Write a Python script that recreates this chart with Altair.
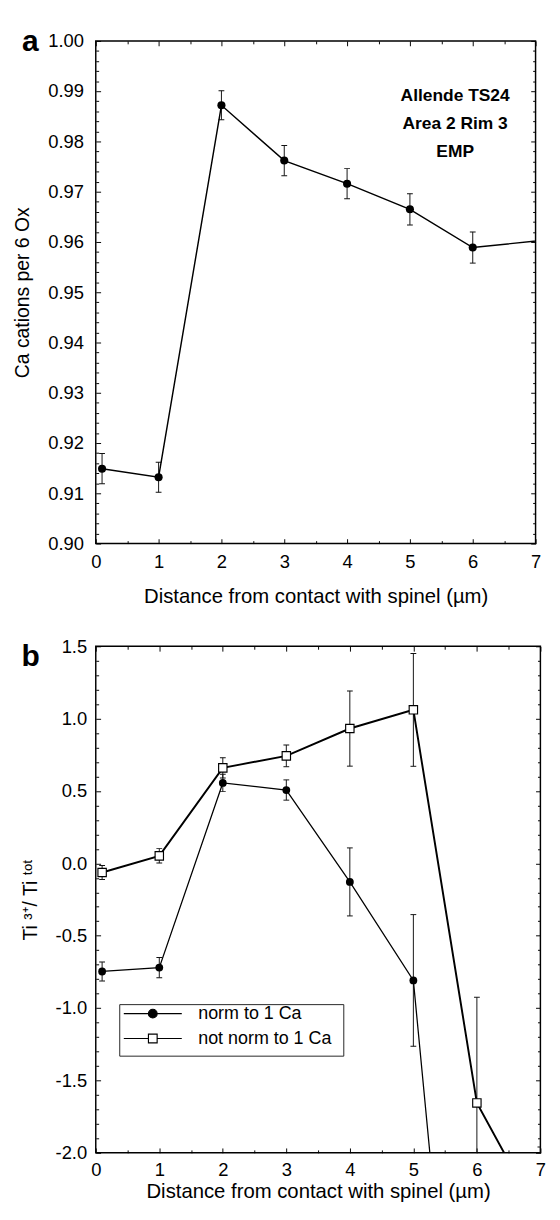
import altair as alt
import pandas as pd

FONT = "Liberation Sans"

# ---------------- panel a : Ca cations per 6 Ox ----------------
a_dist = [0.1, 1, 2, 3, 4, 5, 6, 8]
a_ca = [0.9149, 0.9132, 0.9872, 0.9762, 0.9716, 0.9665, 0.9589, 0.9615]
a_err = [0.0030, 0.0030, 0.0029, 0.0030, 0.0030, 0.0031, 0.0031, 0.0030]

# ---------------- panel b : Ti3+/Ti tot ----------------
series_names = ["norm to 1 Ca", "not norm to 1 Ca"]
norm_dist = [0.1, 1, 2, 3, 4, 5, 6]
norm_val = [-0.747, -0.720, 0.556, 0.507, -0.128, -0.809, -5.40]
norm_err = [0.065, 0.070, 0.060, 0.070, 0.235, 0.455, 0.50]
raw_dist = [0.1, 1, 2, 3, 4, 5, 6, 7]
raw_val = [-0.063, 0.052, 0.660, 0.743, 0.932, 1.061, -1.655, -2.46]
raw_err = [0.048, 0.050, 0.070, 0.075, 0.260, 0.390, 0.730, 0.50]

# ---------------- ticks / labels ----------------
x_major = [0, 1, 2, 3, 4, 5, 6, 7]
x_minor = [0.5, 1.5, 2.5, 3.5, 4.5, 5.5, 6.5]
a_major = [0.90, 0.91, 0.92, 0.93, 0.94, 0.95, 0.96, 0.97, 0.98, 0.99, 1.00]
a_minor = [round(0.90 + 0.002 * i, 3) for i in range(51) if i % 5]
b_major = [-2.0, -1.5, -1.0, -0.5, 0.0, 0.5, 1.0, 1.5]
b_minor = [round(-2.0 + 0.1 * i, 1) for i in range(36) if i % 5]

x_title = "Distance from contact with spinel (µm)"
a_y_title = "Ca cations per 6 Ox"
b_y_title = "Ti ³⁺/ Ti ᵗᵒᵗ"
annotation = "Allende TS24\nArea 2 Rim 3\nEMP"


def lab_axis(values, orient, title, label_pad, title_pad, title_size, **kw):
    return alt.Axis(orient=orient, values=values, title=title, ticks=False, tickSize=0,
                    domain=False, grid=False, labelPadding=label_pad, titlePadding=title_pad,
                    labelFont=FONT, labelFontSize=19, labelColor="black",
                    titleFont=FONT, titleFontSize=title_size, titleColor="black",
                    titleFontWeight="normal", labelFlush=False, labelOverlap=False, **kw)


def tick_axis(values, orient, size):
    return alt.Axis(orient=orient, values=values, labels=False, domain=False, grid=False,
                    title=None, ticks=True, tickSize=size, offset=-size,
                    tickColor="black", tickWidth=1)


# ================= panel a =================
dfa = pd.DataFrame({
    "x": a_dist, "y": a_ca,
    "lo": [v - e for v, e in zip(a_ca, a_err)],
    "hi": [v + e for v, e in zip(a_ca, a_err)],
})
xa = alt.Scale(domain=[0, 7], nice=False, zero=False)
ya = alt.Scale(domain=[0.90, 1.00], nice=False, zero=False)
base_a = alt.Chart(dfa)

a_err_rule = base_a.mark_rule(color="#111", strokeWidth=1, clip=True).encode(
    x=alt.X("x:Q", scale=xa, axis=tick_axis(x_minor, "bottom", 3)),
    y=alt.Y("lo:Q", scale=ya, axis=tick_axis(a_minor, "left", 3)),
    y2="hi:Q")
a_cap_hi = base_a.mark_tick(orient="horizontal", size=6, thickness=1, color="#111",
                            opacity=1, clip=True).encode(
    x=alt.X("x:Q", scale=xa, axis=tick_axis(x_major, "top", 5)),
    y=alt.Y("hi:Q", scale=ya, axis=tick_axis(a_major, "right", 5)))
a_cap_lo = base_a.mark_tick(orient="horizontal", size=6, thickness=1, color="#111",
                            opacity=1, clip=True).encode(
    x=alt.X("x:Q", scale=xa, axis=tick_axis(x_minor, "top", 3)),
    y=alt.Y("lo:Q", scale=ya, axis=tick_axis(a_minor, "right", 3)))
a_line = base_a.mark_line(color="black", strokeWidth=1.5, clip=True).encode(
    x=alt.X("x:Q", scale=xa, axis=lab_axis(x_major, "bottom", x_title, 10, 14.8, 21, format=".0f")),
    y=alt.Y("y:Q", scale=ya, axis=lab_axis(a_major, "left", a_y_title, 12.7, 16.2, 20, format=".2f")))
a_pts = base_a.mark_circle(color="black", size=70, opacity=1, clip=True).encode(
    x=alt.X("x:Q", scale=xa, axis=tick_axis(x_major, "bottom", 5)),
    y=alt.Y("y:Q", scale=ya, axis=tick_axis(a_major, "left", 5)))
a_note = alt.Chart(pd.DataFrame({"t": [annotation]})).mark_text(
    align="center", baseline="middle", font=FONT, fontSize=18, fontWeight="bold",
    lineBreak="\n", lineHeight=29, color="black").encode(
    x=alt.value(371.8), y=alt.value(57.3), text="t:N")
a_letter = alt.Chart(pd.DataFrame({"t": ["a"]})).mark_text(
    align="center", baseline="alphabetic", font=FONT, fontSize=31, fontWeight="bold",
    color="black").encode(x=alt.value(-67.7), y=alt.value(10.3), text="t:N")

panel_a = alt.layer(a_err_rule, a_cap_hi, a_cap_lo, a_line, a_pts, a_note, a_letter).resolve_axis(
    x="independent", y="independent").properties(width=455, height=520)

# ================= panel b =================
rows = []
for name, xs, vs, es in [(series_names[0], norm_dist, norm_val, norm_err),
                         (series_names[1], raw_dist, raw_val, raw_err)]:
    for xv, v, e in zip(xs, vs, es):
        rows.append({"series": name, "x": xv, "y": v, "lo": v - e, "hi": v + e})
dfb = pd.DataFrame(rows)

xb = alt.Scale(domain=[0, 7], nice=False, zero=False)
yb = alt.Scale(domain=[-2.0, 1.5], nice=False, zero=False)
base_b = alt.Chart(dfb)
neg_fix = "replace(format(datum.value, '.1f'), '\u2212', '-')"

b_err_rule = base_b.mark_rule(color="#111", strokeWidth=1, clip=True).encode(
    x=alt.X("x:Q", scale=xb, axis=tick_axis(x_minor, "bottom", 3)),
    y=alt.Y("lo:Q", scale=yb, axis=tick_axis(b_minor, "left", 3)),
    y2="hi:Q")
b_cap_hi = base_b.mark_tick(orient="horizontal", size=6, thickness=1, color="#111",
                            opacity=1, clip=True).encode(
    x=alt.X("x:Q", scale=xb, axis=tick_axis(x_major, "top", 5)),
    y=alt.Y("hi:Q", scale=yb, axis=tick_axis(b_major, "right", 5)))
b_cap_lo = base_b.mark_tick(orient="horizontal", size=6, thickness=1, color="#111",
                            opacity=1, clip=True).encode(
    x=alt.X("x:Q", scale=xb, axis=tick_axis(x_minor, "top", 3)),
    y=alt.Y("lo:Q", scale=yb, axis=tick_axis(b_minor, "right", 3)))
b_line_norm = base_b.transform_filter(alt.datum.series == series_names[0]).mark_line(
    color="black", strokeWidth=1.3, clip=True).encode(
    x=alt.X("x:Q", scale=xb, axis=lab_axis(x_major, "bottom", x_title, 8.8, 1.7, 21, format=".0f")),
    y=alt.Y("y:Q", scale=yb, axis=lab_axis(b_major, "left", b_y_title, 9.4, 15.4, 20, labelExpr=neg_fix)))
b_line_raw = base_b.transform_filter(alt.datum.series == series_names[1]).mark_line(
    color="black", strokeWidth=2, clip=True).encode(
    x=alt.X("x:Q", scale=xb, axis=None),
    y=alt.Y("y:Q", scale=yb, axis=None))
b_circles = base_b.transform_filter(alt.datum.series == series_names[0]).mark_circle(
    color="black", size=65, opacity=1, clip=True).encode(
    x=alt.X("x:Q", scale=xb, axis=tick_axis(x_major, "bottom", 5)),
    y=alt.Y("y:Q", scale=yb, axis=tick_axis(b_major, "left", 5)))
b_squares = base_b.transform_filter(alt.datum.series == series_names[1]).mark_square(
    fill="white", stroke="black", strokeWidth=1.2, size=75, opacity=1, clip=True).encode(
    x=alt.X("x:Q", scale=xb, axis=None),
    y=alt.Y("y:Q", scale=yb, axis=None))

# legend frame (drawn under the legend entries)
b_frame = alt.Chart(pd.DataFrame({"k": [0]})).mark_rect(
    fill="white", stroke="#222", strokeWidth=1).encode(
    x=alt.value(24.8), x2=alt.value(256.6), y=alt.value(370.7), y2=alt.value(424.0))

circle_path = "M-1,0L1,0M-0.15,0A0.15,0.15,0,1,0,0.15,0A0.15,0.15,0,1,0,-0.15,0Z"
square_path = "M-1,0L-0.15,0M0.15,0L1,0M-0.15,-0.15L0.15,-0.15L0.15,0.15L-0.15,0.15Z"
leg = alt.Legend(orient="none", legendX=28, legendY=996.8, title=None, padding=0,
                 symbolSize=3600, clipHeight=19, symbolStrokeColor="black",
                 symbolStrokeWidth=1.2, labelFont=FONT, labelFontSize=18.5,
                 labelColor="black", labelOffset=16, rowPadding=6.7, symbolOpacity=1)
b_legend = base_b.transform_filter("false").mark_point(
    filled=True, stroke="black", strokeWidth=1.2, size=3600, opacity=1).encode(
    shape=alt.Shape("series:N", scale=alt.Scale(domain=series_names, range=[circle_path, square_path]), legend=leg),
    fill=alt.Fill("series:N", scale=alt.Scale(domain=series_names, range=["black", "white"]), legend=leg),
    stroke=alt.Stroke("series:N", scale=alt.Scale(domain=series_names, range=["black", "black"]), legend=leg))
b_letter = alt.Chart(pd.DataFrame({"t": ["b"]})).mark_text(
    align="center", baseline="alphabetic", font=FONT, fontSize=31, fontWeight="bold",
    color="black").encode(x=alt.value(-67.4), y=alt.value(20.7), text="t:N")

panel_b = alt.layer(b_err_rule, b_cap_hi, b_cap_lo, b_line_norm, b_line_raw, b_circles,
                    b_squares, b_frame, b_legend, b_letter).resolve_axis(
    x="independent", y="independent").properties(width=460, height=524)

chart = alt.vconcat(panel_a, panel_b, spacing=106.3, bounds="flush").configure_view(
    stroke="black", strokeWidth=1.5).properties(
    padding={"left": 3.8, "top": -3, "right": 5, "bottom": 5})

chart.save("out.html", embed_options={"renderer": "svg", "actions": False})
